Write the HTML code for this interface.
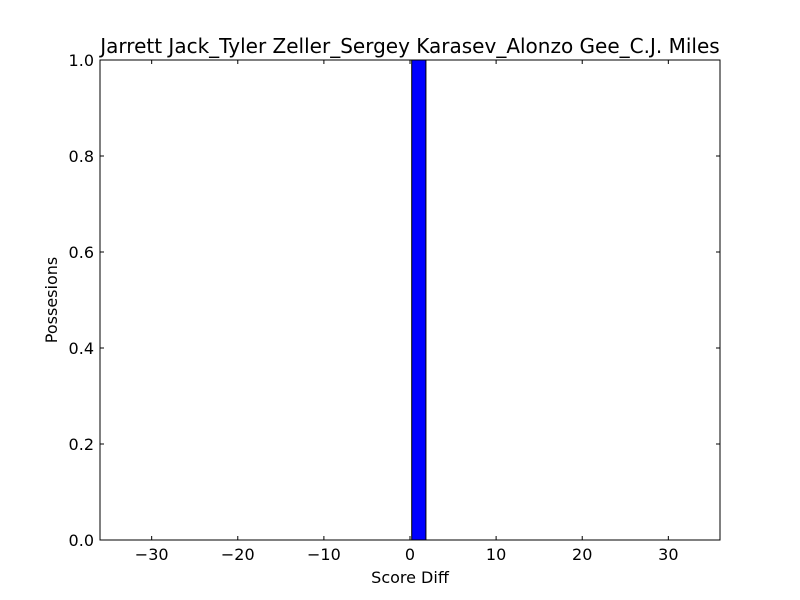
<!DOCTYPE html>
<html><head><meta charset="utf-8"><style>body{margin:0;background:#fff}svg{display:block;font-family:"DejaVu Sans",sans-serif}</style></head>
<body>
<svg id="chart" width="800" height="600">
<rect width="800" height="600" fill="#fff"/>
<text x="410" y="53" font-size="20" text-anchor="middle">Jarrett Jack_Tyler Zeller_Sergey Karasev_Alonzo Gee_C.J. Miles</text>
<g id="bars"></g>
<g id="ticks"></g>
<rect x="100" y="60" width="620" height="480" fill="none" stroke="#000" stroke-width="1"/>
<text x="410" y="583" font-size="16" text-anchor="middle">Score Diff</text>
<text x="57" y="300" font-size="16" text-anchor="middle" transform="rotate(-90 57 300)">Possesions</text>
</svg>
<script>
const binLefts=[0.2];
const binWidths=[1.65];
const binValues=[1.0];
const xTicks=[-30,-20,-10,0,10,20,30];
const yTicks=[0.0,0.2,0.4,0.6,0.8,1.0];
const X0=100,X1=720,Y0=540,Y1=60,xmin=-36,xmax=36,ymin=0,ymax=1;
const sx=v=>X0+(v-xmin)/(xmax-xmin)*(X1-X0);
const sy=v=>Y0-(v-ymin)/(ymax-ymin)*(Y0-Y1);
const NS="http://www.w3.org/2000/svg";
const bars=document.getElementById('bars'),ticks=document.getElementById('ticks');
binValues.forEach((v,i)=>{
 const r=document.createElementNS(NS,'rect');
 r.setAttribute('x',sx(binLefts[i]));r.setAttribute('y',sy(v));
 r.setAttribute('width',sx(binLefts[i]+binWidths[i])-sx(binLefts[i]));
 r.setAttribute('height',sy(0)-sy(v));
 r.setAttribute('fill','#0000ff');r.setAttribute('stroke','#000');
 
 
 bars.appendChild(r);
});
function line(x1,y1,x2,y2){const l=document.createElementNS(NS,'line');l.setAttribute('x1',x1);l.setAttribute('y1',y1);l.setAttribute('x2',x2);l.setAttribute('y2',y2);l.setAttribute('stroke','#000');ticks.appendChild(l);return l;}
function text(x,y,s,a){const t=document.createElementNS(NS,'text');t.setAttribute('x',x);t.setAttribute('y',y);t.setAttribute('font-size','16');t.setAttribute('text-anchor',a);t.textContent=s;ticks.appendChild(t);return t;}
xTicks.forEach(v=>{const x=sx(v);line(x,Y0,x,Y0-4);line(x,Y1,x,Y1+4);
 const t=text(x,560,String(v).replace('-','\u2212'),'middle');
 
 });
yTicks.forEach(v=>{const y=sy(v);line(X0,y,X0+4,y);line(X1,y,X1-4,y);
 const t=text(94,y+6,v.toFixed(1),'end');
 
 });
</script>
</body></html>
